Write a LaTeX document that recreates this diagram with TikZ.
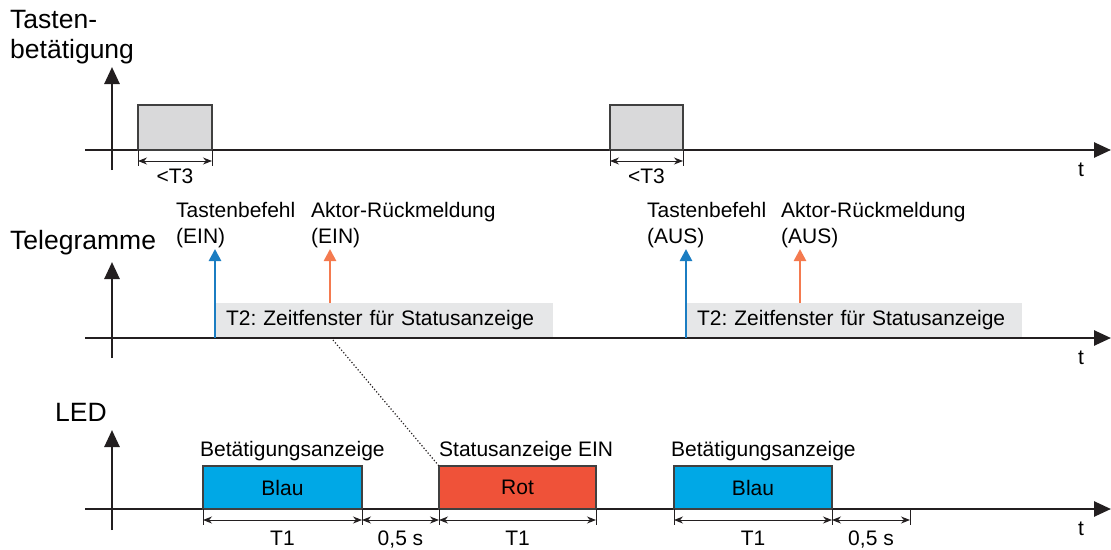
\documentclass[tikz,border=0pt]{standalone}
\usepackage{fontspec}
\setmainfont{Liberation Sans}
\frenchspacing
\usetikzlibrary{arrows.meta}

\definecolor{axisblack}{HTML}{231F20}
\definecolor{boxedge}{HTML}{404040}
\definecolor{pressgray}{HTML}{D9D9DA}
\definecolor{windowgray}{HTML}{E6E7E8}
\definecolor{ledblue}{HTML}{00A8E6}
\definecolor{ledred}{HTML}{EF5239}
\definecolor{cmdblue}{HTML}{1B7DC2}
\definecolor{fbkorange}{HTML}{F47A4F}

\tikzset{
  axis/.style={draw=axisblack, line width=2.6pt, -{Triangle[length=17pt,width=15pt]}},
  pulse/.style={draw=boxedge, line width=1.2pt, inner sep=0pt, outer sep=0pt, anchor=south west,
    font=\fontsize{21}{26}\selectfont},
  window/.style={fill=windowgray, inner sep=0pt, inner xsep=11pt, outer sep=0pt, anchor=south west,
    align=left, minimum height=34pt, font=\fontsize{21}{26}\selectfont},
  telearrow/.style={line width=2.6pt, -{Triangle[length=12pt,width=12pt]}},
  dimline/.style={draw=axisblack, line width=0.9pt, {Stealth[length=9pt,width=7pt]}-{Stealth[length=9pt,width=7pt]}},
  tick/.style={draw=axisblack, line width=0.9pt},
  lbl/.style={font=\fontsize{21}{26}\selectfont, inner sep=0pt, anchor=base west, align=left},
  biglbl/.style={font=\fontsize{26.5}{30}\selectfont, inner sep=0pt, anchor=base west, align=left},
}

\begin{document}
\begin{tikzpicture}[x=1pt,y=-1pt]
\useasboundingbox (0,0) rectangle (1111,549);

% Tastenbetaetigung
\node[biglbl] (lbltaste) at (10,58) {Tasten-\\betätigung};
\coordinate (x1a) at (85,150); \coordinate (x1b) at (1111,150);
\coordinate (y1a) at (112,170); \coordinate (y1b) at (112,67);
\draw[axis] (x1a) -- (x1b);
\draw[axis] (y1a) -- (y1b);
\node[lbl] (t1) at (1078,176) {t};

\node[pulse, fill=pressgray, minimum width=74pt, minimum height=45pt] (press1) at (138,150) {};
\node[pulse, fill=pressgray, minimum width=73pt, minimum height=45pt] (press2) at (610,150) {};
\foreach \p in {press1,press2} {
  \draw[tick] (\p.south west) -- ++(0,16);
  \draw[tick] (\p.south east) -- ++(0,16);
  \draw[dimline] ([yshift=-11pt]\p.south west) -- ([yshift=-11pt]\p.south east)
    node[midway, lbl, anchor=base, yshift=-22pt] {<T3};
}

% Telegramme
\node[biglbl] (lbltele) at (10,249) {Telegramme};
\coordinate (x2a) at (85,338); \coordinate (x2b) at (1111,338);
\coordinate (y2a) at (112,358); \coordinate (y2b) at (112,262);
\draw[axis] (x2a) -- (x2b);
\draw[axis] (y2a) -- (y2b);
\node[lbl] (t2) at (1078,364) {t};

\node[window, text width=316pt] (win1) at (215,337) {T2: Zeitfenster für Statusanzeige};
\node[window, text width=314pt] (win2) at (686,337) {T2: Zeitfenster für Statusanzeige};

\coordinate (cmd1) at (215,338); \coordinate (cmd1tip) at (215,249);
\coordinate (fbk1) at (330,303); \coordinate (fbk1tip) at (330,249);
\coordinate (cmd2) at (686,338); \coordinate (cmd2tip) at (686,249);
\coordinate (fbk2) at (800,303); \coordinate (fbk2tip) at (800,249);
\draw[telearrow, cmdblue] (cmd1) -- (cmd1tip);
\draw[telearrow, fbkorange] (fbk1) -- (fbk1tip);
\draw[telearrow, cmdblue] (cmd2) -- (cmd2tip);
\draw[telearrow, fbkorange] (fbk2) -- (fbk2tip);

\node[lbl] (lblcmd1) at (176,243) {Tastenbefehl\\(EIN)};
\node[lbl] (lblfbk1) at (311,243) {Aktor-Rückmeldung\\(EIN)};
\node[lbl] (lblcmd2) at (647,243) {Tastenbefehl\\(AUS)};
\node[lbl] (lblfbk2) at (781,243) {Aktor-Rückmeldung\\(AUS)};

% LED
\node[biglbl] (lblled) at (55,421) {LED};
\coordinate (x3a) at (85,509); \coordinate (x3b) at (1111,509);
\coordinate (y3a) at (112,530); \coordinate (y3b) at (112,430);
\draw[axis] (x3a) -- (x3b);
\draw[axis] (y3a) -- (y3b);
\node[lbl] (t3) at (1078,535) {t};

\node[pulse, fill=ledblue, minimum width=159pt, minimum height=43pt] (blue1) at (203,509) {Blau};
\node[pulse, fill=ledred, minimum width=157pt, minimum height=43pt] (red1) at (439,509) {Rot};
\node[pulse, fill=ledblue, minimum width=158pt, minimum height=43pt] (blue2) at (674,509) {Blau};

\node[lbl] (lblbet1) at (200,456) {Betätigungsanzeige};
\node[lbl] (lblstat) at (439,456) {Statusanzeige EIN};
\node[lbl] (lblbet2) at (671,456) {Betätigungsanzeige};

\coordinate (pause2) at (910,509);
\foreach \c in {blue1.south west, blue1.south east, red1.south west, red1.south east,
                blue2.south west, blue2.south east, pause2}
  \draw[tick] (\c) -- ++(0,16);
\draw[dimline] ([yshift=-11pt]blue1.south west) -- ([yshift=-11pt]blue1.south east)
  node[midway, lbl, anchor=base, yshift=-25pt] {T1};
\draw[dimline] ([yshift=-11pt]blue1.south east) -- ([yshift=-11pt]red1.south west)
  node[midway, lbl, anchor=base, yshift=-25pt] {0,5 s};
\draw[dimline] ([yshift=-11pt]red1.south west) -- ([yshift=-11pt]red1.south east)
  node[midway, lbl, anchor=base, yshift=-25pt] {T1};
\draw[dimline] ([yshift=-11pt]blue2.south west) -- ([yshift=-11pt]blue2.south east)
  node[midway, lbl, anchor=base, yshift=-25pt] {T1};
\draw[dimline] ([yshift=-11pt]blue2.south east) -- ([yshift=-11pt]pause2)
  node[midway, lbl, anchor=base, yshift=-25pt] {0,5 s};

% Zeitfenster -> Statusanzeige
\coordinate (dot1) at (333,340);
\draw[dotted, line width=1.2pt, axisblack] (dot1) -- (red1.north west);

\end{tikzpicture}
\end{document}
